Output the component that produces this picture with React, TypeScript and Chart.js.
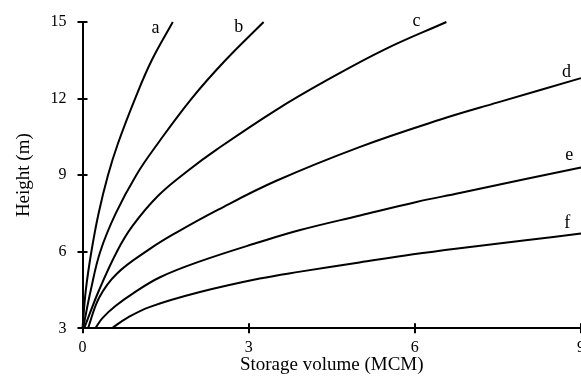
import React, { useEffect, useRef } from "react";
import { Chart, registerables } from "chart.js";

Chart.register(...registerables);

// Axis ticks
const xTicks = [0, 3, 6, 9];
const yTicks = [3, 6, 9, 12, 15];

// Curve a
const aVolume = [0, 0.06, 0.16, 0.29, 0.46, 0.64, 0.95, 1.25, 1.63];
const aHeight = [3, 4.5, 6, 7.5, 9, 10.24, 12, 13.5, 15];
// Curve b
const bVolume = [0.01, 0.15, 0.32, 0.6, 0.97, 1.36, 1.97, 2.58, 3.27];
const bHeight = [3, 4.5, 6, 7.5, 9, 10.24, 12, 13.5, 15];
// Curve c
const cVolume = [0.03, 0.3, 0.62, 0.9, 1.37, 1.92, 2.42, 3.5, 4.42, 5.45, 6.57];
const cHeight = [3, 4.5, 6, 7.0, 8.2, 9.2, 10.0, 11.56, 12.73, 13.92, 15];
// Curve d
const dVolume = [0.1, 0.3, 0.62, 1.21, 1.67, 2.45, 3.5, 5.0, 6.45, 7.5, 9];
const dHeight = [3, 4.2, 5.14, 6.1, 6.72, 7.65, 8.78, 10.1, 11.17, 11.85, 12.8];
// Curve e
const eVolume = [0.23, 0.36, 0.6, 0.92, 1.4, 2.12, 3.2, 3.93, 5.01, 6.03, 6.81, 8, 9];
const eHeight = [3, 3.4, 3.88, 4.38, 5.0, 5.62, 6.38, 6.85, 7.42, 7.95, 8.3, 8.85, 9.3];
// Curve f
const fVolume = [0.53, 0.8, 1.22, 2.12, 3.2, 3.93, 5.0, 5.97, 6.81, 8, 9];
const fHeight = [3, 3.4, 3.84, 4.42, 4.95, 5.22, 5.58, 5.9, 6.14, 6.45, 6.71];

// Curve labels (text baseline position in data units)
const curveNames = ["a", "b", "c", "d", "e", "f"];
const labelVolume = [1.32, 2.82, 6.03, 8.74, 8.79, 8.75];
const labelHeight = [14.57, 14.59, 14.83, 12.84, 9.6, 6.92];

const SERIF = "'Liberation Serif', 'Times New Roman', serif";

const curves = [
  [aVolume, aHeight],
  [bVolume, bHeight],
  [cVolume, cHeight],
  [dVolume, dHeight],
  [eVolume, eHeight],
  [fVolume, fHeight],
];

const decorPlugin = {
  id: "decor",
  afterDraw(chart: any) {
    const ctx = chart.ctx;
    const xs = chart.scales.x;
    const ys = chart.scales.y;
    const area = chart.chartArea;
    ctx.save();
    ctx.strokeStyle = "#000";
    ctx.lineWidth = 2;
    // inner halves of the crossing tick marks
    xTicks.forEach((v) => {
      const px = Math.round(xs.getPixelForValue(v));
      ctx.beginPath();
      ctx.moveTo(px, area.bottom);
      ctx.lineTo(px, area.bottom - 5);
      ctx.stroke();
    });
    yTicks.forEach((v) => {
      const py = Math.round(ys.getPixelForValue(v));
      ctx.beginPath();
      ctx.moveTo(area.left, py);
      ctx.lineTo(area.left + 5, py);
      ctx.stroke();
    });
    // curve labels
    ctx.fillStyle = "#000";
    ctx.font = `18px ${SERIF}`;
    ctx.textAlign = "center";
    ctx.textBaseline = "alphabetic";
    curveNames.forEach((name, i) => {
      ctx.fillText(
        name,
        xs.getPixelForValue(labelVolume[i]),
        ys.getPixelForValue(labelHeight[i])
      );
    });
    ctx.restore();
  },
};

export default function App() {
  const ref = useRef<HTMLCanvasElement | null>(null);

  useEffect(() => {
    if (!ref.current) return;
    const chart = new Chart(ref.current, {
      type: "scatter",
      data: {
        datasets: curves.map(([vols, hts], i) => ({
          label: curveNames[i],
          data: vols.map((v, j) => ({ x: v, y: hts[j] })),
          showLine: true,
          borderColor: "#000",
          backgroundColor: "#000",
          borderWidth: 2,
          pointRadius: 0,
          tension: 0.4,
          clip: false as any,
        })),
      },
      options: {
        animation: false,
        responsive: false,
        maintainAspectRatio: false,
        layout: { padding: { top: 22, right: 19, left: 0, bottom: 0 } },
        plugins: {
          legend: { display: false },
          tooltip: { enabled: false },
        },
        scales: {
          x: {
            type: "linear",
            min: 0,
            max: 9,
            afterBuildTicks: (s: any) => {
              s.ticks = xTicks.map((v) => ({ value: v }));
            },
            afterFit: (s: any) => {
              s.height = 47.7;
            },
            border: { display: true, color: "#000", width: 2 },
            grid: {
              drawOnChartArea: false,
              drawTicks: true,
              tickLength: 5,
              color: "#000",
              lineWidth: 2,
            },
            ticks: {
              color: "#000",
              padding: 5,
              maxRotation: 0,
              font: { family: SERIF, size: 16 },
            },
            title: {
              display: true,
              text: "Storage volume (MCM)",
              color: "#000",
              padding: { top: 0, bottom: 0 },
              font: { family: SERIF, size: 19 },
            },
          },
          y: {
            type: "linear",
            min: 3,
            max: 15,
            afterBuildTicks: (s: any) => {
              s.ticks = yTicks.map((v) => ({ value: v }));
            },
            afterFit: (s: any) => {
              s.width = 82.5;
            },
            border: { display: true, color: "#000", width: 2 },
            grid: {
              drawOnChartArea: false,
              drawTicks: true,
              tickLength: 5,
              color: "#000",
              lineWidth: 2,
            },
            ticks: {
              color: "#000",
              padding: 11,
              font: { family: SERIF, size: 16 },
            },
            title: {
              display: true,
              text: "Height (m)",
              color: "#000",
              padding: { top: 13, bottom: 0 },
              font: { family: SERIF, size: 19 },
            },
          },
        },
      },
      plugins: [decorPlugin],
    });
    return () => chart.destroy();
  }, []);

  return (
    <div
      style={{
        position: "fixed",
        left: 0,
        top: 0,
        width: 581,
        height: 376,
        overflow: "hidden",
        background: "#fff",
      }}
    >
      <canvas ref={ref} width={600} height={376} style={{ display: "block" }} />
    </div>
  );
}
